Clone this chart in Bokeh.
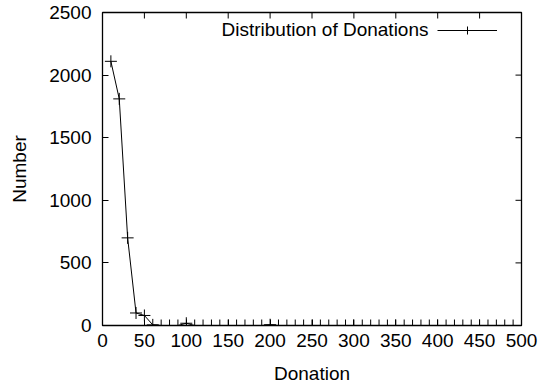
import math
from bokeh.plotting import figure
from bokeh.models import Range1d, FixedTicker, Legend, LegendItem, Label
from bokeh.embed import file_html
from bokeh.resources import INLINE

donation = list(range(10, 510, 10))
counts = [2110, 1810, 700, 100, 80, 5, 0, 0, 0, 18] + [0] * 9 + [6] + [0] * 30
x_ticks = list(range(0, 550, 50))
y_ticks = list(range(0, 3000, 500))
series_name = "Distribution of Donations"
x_label = "Donation"
y_label = "Number"

FONT = "Liberation Sans"
FS = "19px"

p = figure(frame_width=419, frame_height=313, output_backend="svg", toolbar_location=None,
           x_range=Range1d(0, 500), y_range=Range1d(0, 2500),
           min_border_left=102, min_border_right=18, min_border_top=12, min_border_bottom=62,
           x_axis_label=x_label, y_axis_label=y_label)
p.grid.visible = False
p.outline_line_color = "black"
p.outline_line_width = 1.3
p.background_fill_color = "white"
p.border_fill_color = "white"

for ax in p.axis:
    ax.axis_line_color = None
    ax.major_tick_in = 6
    ax.major_tick_out = 0
    ax.minor_tick_line_color = None
    ax.major_tick_line_color = "black"
    ax.major_label_text_font = FONT
    ax.major_label_text_font_size = FS
    ax.major_label_text_color = "black"
    ax.axis_label_text_font = FONT
    ax.axis_label_text_font_size = FS
    ax.axis_label_text_font_style = "normal"
    ax.axis_label_text_color = "black"
p.xaxis.ticker = FixedTicker(ticks=x_ticks)
p.yaxis.ticker = FixedTicker(ticks=y_ticks)
p.xaxis.major_label_standoff = 8
p.yaxis.major_label_standoff = 11
p.xaxis.axis_label_standoff = 13
p.yaxis.axis_label_standoff = 16

# mirrored ticks on the top and right borders
p.ray(x=x_ticks, y=p.y_range.end, length=6, angle=-math.pi / 2, length_units="screen",
      line_color="black", line_width=1)
p.ray(x=p.x_range.end, y=y_ticks, length=6, angle=math.pi, length_units="screen",
      line_color="black", line_width=1)

ln = p.line(donation, counts, line_color="black", line_width=1)
sc = p.scatter(donation, counts, marker="cross", size=12, line_color="black", line_width=1)

# gnuplot-style key: text on the left, sample on the right
legend = Legend(items=[LegendItem(label={"value": ""}, renderers=[ln, sc])],
                location=(335, 285), border_line_color=None, background_fill_alpha=0,
                label_text_font=FONT, label_text_font_size="1px",
                glyph_width=60, glyph_height=20, label_standoff=0, label_width=0,
                margin=0, padding=0)
p.add_layout(legend)
p.add_layout(Label(x=326, y=296, x_units="screen", y_units="screen", text=series_name,
                   text_align="right", text_baseline="middle", text_font=FONT,
                   text_font_size=FS, text_color="black"))

open("out.html", "w").write(file_html(p, INLINE))
